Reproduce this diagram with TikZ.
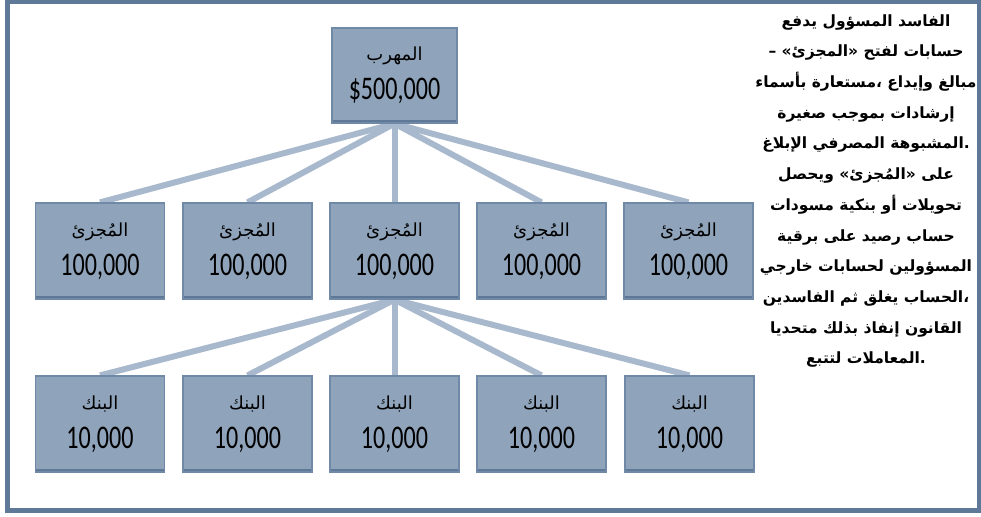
\documentclass[tikz,border=0pt]{standalone}
\usepackage{fontspec}
\usepackage{tikz}
\usetikzlibrary{positioning,backgrounds}
\TeXXeTstate=1
\newfontfamily\arabicfont[Script=Arabic]{DejaVu Sans}
\newfontfamily\numfont[FakeStretch=0.73]{Carlito}
\definecolor{framecol}{HTML}{5E7897}
\definecolor{boxfill}{HTML}{8FA3BA}
\definecolor{boxedge}{HTML}{7089A6}
\definecolor{linkcol}{HTML}{A8B9CD}
\newcommand{\boxtext}[2]{{\arabicfont\fontsize{18}{20}\selectfont\beginR #1\endR}\\{\numfont #2}}

\begin{document}
\begin{tikzpicture}[x=1pt,y=-1pt,
    box/.style={fill=boxfill,draw=boxedge,line width=1.2pt,minimum width=129pt,minimum height=96pt,inner sep=0pt,align=center,
        font=\fontsize{33}{39}\selectfont,
        path picture={\fill[framecol] (path picture bounding box.south west) rectangle ([yshift=3pt]path picture bounding box.south east);}},
    link/.style={draw=linkcol,line width=6pt}]
              \useasboundingbox (0,0) rectangle (981,516);
              \draw[framecol,line width=5pt] (7,1.5) rectangle (979,510);

              \node[box,minimum width=125pt,minimum height=95pt] (t) at (394.5,75.5) {\boxtext{المهرب}{\$500,000}};

              \node[box] (m1) at (100,251) {\boxtext{المُجزئ}{100,000}};
              \node[box] (m2) at (247.5,251) {\boxtext{المُجزئ}{100,000}};
              \node[box] (m3) at (394.5,251) {\boxtext{المُجزئ}{100,000}};
              \node[box] (m4) at (541.5,251) {\boxtext{المُجزئ}{100,000}};
              \node[box] (m5) at (688.5,251) {\boxtext{المُجزئ}{100,000}};

              \node[box] (b1) at (100,424) {\boxtext{البنك}{10,000}};
              \node[box] (b2) at (247.5,424) {\boxtext{البنك}{10,000}};
              \node[box] (b3) at (394.5,424) {\boxtext{البنك}{10,000}};
              \node[box] (b4) at (541.5,424) {\boxtext{البنك}{10,000}};
              \node[box] (b5) at (689.5,424) {\boxtext{البنك}{10,000}};

              \begin{scope}[on background layer]
              \draw[link] (t.south) -- (m1.north);
              \draw[link] (t.south) -- (m2.north);
              \draw[link] (t.south) -- (m3.north);
              \draw[link] (t.south) -- (m4.north);
              \draw[link] (t.south) -- (m5.north);
              \draw[link] (m3.south) -- (b1.north);
              \draw[link] (m3.south) -- (b2.north);
              \draw[link] (m3.south) -- (b3.north);
              \draw[link] (m3.south) -- (b4.north);
              \draw[link] (m3.south) -- (b5.north);
              \end{scope}

              % words kept in the order the picture shows them
              \node[align=center,font=\arabicfont\bfseries\fontsize{15.5}{30.7}\selectfont] (note) at (866,191) {%
                \beginR الفاسد المسؤول يدفع\endR\\
                \beginR حسابات لفتح «المجزئ» –\endR\\
                \beginR مبالغ وإيداع ،مستعارة بأسماء\endR\\
                \beginR إرشادات بموجب صغيرة\endR\\
                \beginR .المشبوهة المصرفي الإبلاغ\endR\\
                \beginR على «المُجزئ» ويحصل\endR\\
                \beginR تحويلات أو بنكية مسودات\endR\\
                \beginR حساب رصيد على برقية\endR\\
                \beginR المسؤولين لحسابات خارجي\endR\\
                \beginR ،الحساب يغلق ثم الفاسدين\endR\\
                \beginR القانون إنفاذ بذلك متحديا\endR\\
                \beginR .المعاملات لتتبع\endR};
            \end{tikzpicture}
\end{document}
